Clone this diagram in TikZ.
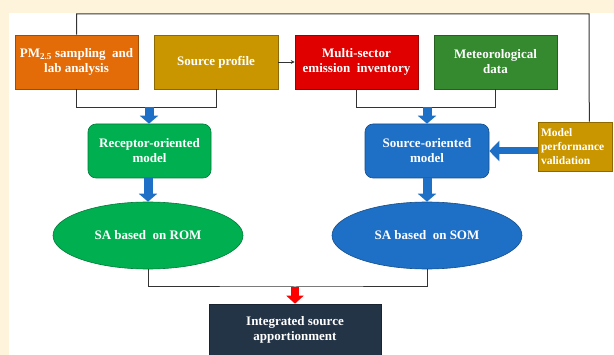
\documentclass[tikz,border=0pt]{standalone}
\usepackage{fontspec}
\setmainfont{Liberation Serif}
\usetikzlibrary{arrows.meta,shapes.geometric,calc}
\definecolor{cream}{HTML}{FEF4DB}
\definecolor{orangeb}{HTML}{E36C09}
\definecolor{goldb}{HTML}{CA9600}
\definecolor{redb}{HTML}{E00000}
\definecolor{metg}{HTML}{35892F}
\definecolor{greenb}{HTML}{00B050}
\definecolor{blueb}{HTML}{1E6FC6}
\definecolor{navyb}{HTML}{243447}
\definecolor{linec}{HTML}{333333}
\tikzset{
  box/.style={rectangle, draw=#1!70!black, fill=#1, line width=0.6pt, minimum height=54pt, minimum width=123pt,
    text=white, font=\bfseries\fontsize{13}{15}\selectfont, align=center, inner sep=2pt},
  rbox/.style={box=#1, rounded corners=8pt},
  ell/.style={ellipse, draw=#1!70!black, fill=#1, line width=0.6pt, minimum width=190pt, minimum height=67pt,
    text=white, font=\bfseries\fontsize{13}{15}\selectfont, align=center, inner sep=0pt},
  conn/.style={draw=linec, line width=1pt},
  fat/.style={draw=#1, line width=9pt, -{Triangle[width=18pt,length=8pt]}},
}
\begin{document}
\begin{tikzpicture}[x=1pt,y=-1pt]
\fill[cream] (0,0) rectangle (614,355);
\fill[white] (9,13) rectangle (614,355);
\useasboundingbox (0,0) rectangle (614,355);

\node[box=orangeb] (pm) at (76.5,62) {PM\textsubscript{2.5} sampling\ \ and\\lab analysis};
\node[box=goldb, minimum width=124pt] (src) at (216,62) {Source profile};
\node[box=redb] (multi) at (356.5,62) {Multi-sector\\emission\ \ inventory};
\node[box=metg] (met) at (495.5,62) {Meteorological\\data};
\node[rbox=greenb] (rom) at (149.5,151) {Receptor-oriented\\model};
\node[rbox=blueb, minimum width=124pt] (som) at (427,151) {Source-oriented\\model};
\node[box=goldb, minimum width=74pt, minimum height=49pt, align=left, text width=68pt,
  font=\bfseries\fontsize{11.5}{13.7}\selectfont] (val) at (575,146.5) {Model\\performance\\validation};
\node[ell=greenb] (rome) at (148,235.5) {SA based\ \ on ROM};
\node[ell=blueb] (some) at (427,235.5) {SA based\ \ on SOM};
\node[box=navyb, minimum width=172pt, minimum height=51pt] (int) at (295,329.5) {Integrated source\\apportionment};

% top feedback line
\coordinate (tl) at (76.5,14);
\coordinate (tr) at (589,14);
\draw[conn] (pm.north) -- (tl) -- (tr) -- ([xshift=-23pt]val.north east);

% source profile -> multi-sector
\draw[conn, line width=0.8pt, -{Stealth[length=4pt,width=4pt]}] (src.east) -- (multi.west);

% left bracket
\coordinate (lb) at (149,107);
\draw[conn] (pm.south) |- ($(src.south)+(0,18)$) -- (src.south);
\draw[fat=blueb] (lb) -- (lb |- rom.north);

% right bracket
\coordinate (rb) at (427,107);
\draw[conn] (multi.south) |- ($(met.south)+(0,18)$) -- (met.south);
\draw[fat=blueb] (rb) -- (som.north);

% model -> ellipse
\draw[fat=blueb] (rom.south -| rome.north) -- (rome.north);
\draw[fat=blueb] (som.south) -- (some.north);

% validation -> SOM
\draw[draw=blueb, line width=7pt, -{Triangle[width=20pt,length=10pt]}] (val.west |- som.east) -- (som.east);

% bottom bracket
\coordinate (bb) at (295,287);
\draw[conn] (rome.south) |- (bb) -| (some.south);
\draw[draw=red, line width=8pt, -{Triangle[width=17pt,length=8pt]}] (bb) -- (int.north);
\end{tikzpicture}
\end{document}
